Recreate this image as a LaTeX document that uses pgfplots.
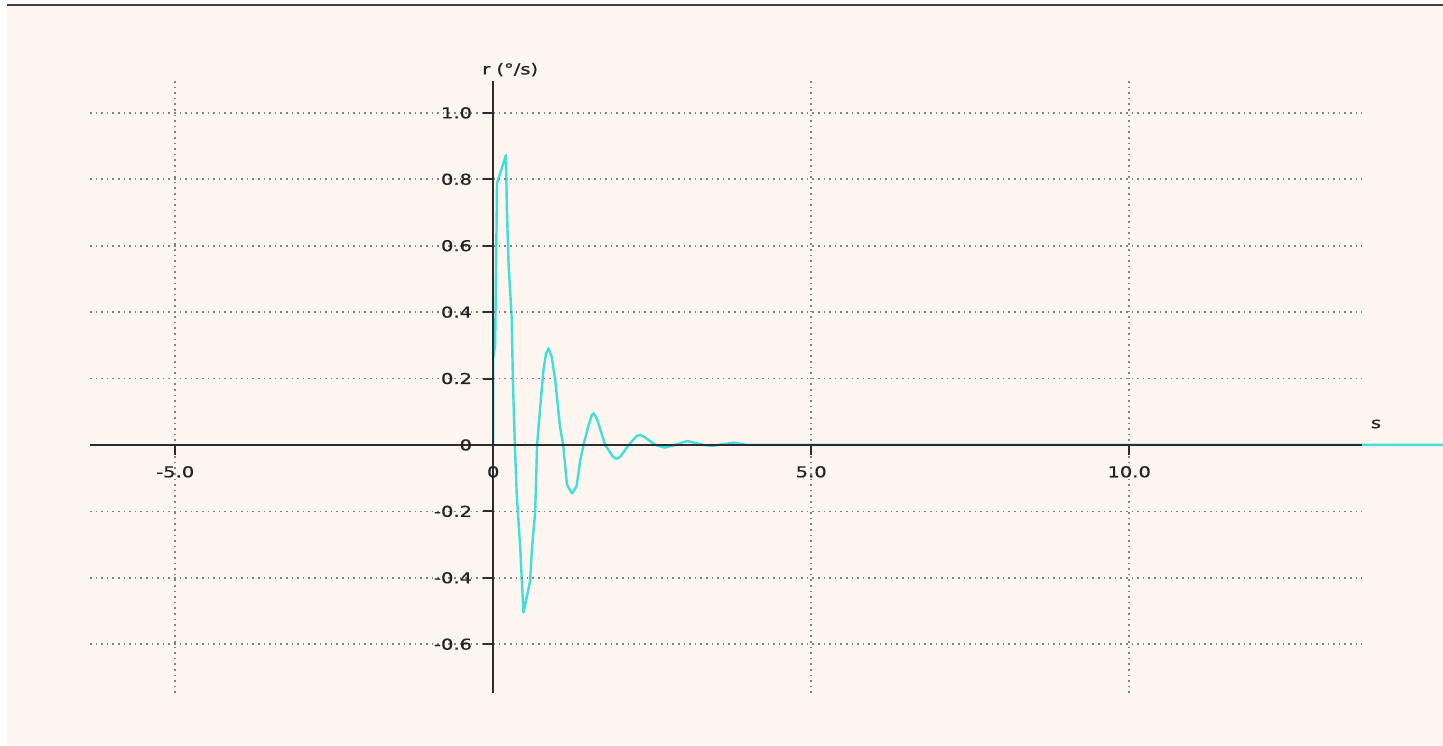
\documentclass[border=0pt]{standalone}
\usepackage{fontspec}
\setmainfont{DejaVu Sans}[FakeStretch=1.3, FakeBold=0.6]
\usepackage{pgfplots}
\pgfplotsset{compat=1.18}
\definecolor{bg}{RGB}{253,245,240}
\definecolor{curve}{RGB}{64,224,216}
\definecolor{axc}{RGB}{45,45,45}
\definecolor{gridc}{RGB}{130,130,130}
\definecolor{txt}{RGB}{35,35,35}
\begin{document}
\begin{tikzpicture}
\useasboundingbox (0pt,0pt) rectangle (1443pt,745pt);
\fill[white] (0pt,0pt) rectangle (1443pt,745pt);
\fill[bg] (7pt,0pt) rectangle (1443pt,739pt);
\draw[line width=1.8pt, color=black!75] (7pt,739.7pt) -- (1443pt,739.7pt);
\begin{axis}[
  at={(90pt,52pt)}, anchor=south west,
  scale only axis, width=1272pt, height=612pt,
  xmin=-6.34, xmax=13.66, ymin=-0.747, ymax=1.096,
  axis lines=middle,
  axis line style={-, line width=2pt, draw=axc},
  axis on top,
  clip=false,
  xtick={-5,0,5,10},
  xticklabels={-5.0,0,5.0,10.0},
  ytick={-0.6,-0.4,-0.2,0,0.2,0.4,0.6,0.8,1.0},
  yticklabels={-0.6,-0.4,-0.2,0,0.2,0.4,0.6,0.8,1.0},
  hide obscured x ticks=false, hide obscured y ticks=false,
  tick align=outside,
  major tick length=10pt,
  tick style={line width=2pt, draw=axc},
  every tick label/.append style={font=\fontsize{15}{17}\selectfont, text=txt},
  xticklabel style={anchor=north, inner sep=0pt, yshift=-11pt},
  yticklabel style={anchor=east, inner sep=0pt, xshift=-11pt},
  grid=major,
  major grid style={draw=gridc, line width=1.6pt, dash pattern=on 1.6pt off 4pt},
  xlabel={s}, ylabel={r (°/s)},
  every axis x label/.style={at={(axis cs:13.88,0.063)}, anchor=center, font=\fontsize{15}{17}\selectfont, text=txt},
  every axis y label/.style={at={(axis cs:0.267,1.13)}, anchor=center, font=\fontsize{15}{17}\selectfont, text=txt},
]
\addplot[color=curve, line width=2.4pt, line join=round] coordinates {
(0,0) (0,0.26) (0.03,0.30) (0.06,0.788) (0.2,0.873) (0.215,0.71) (0.24,0.55)
(0.29,0.385) (0.31,0.19) (0.34,0) (0.37,-0.15) (0.425,-0.31) (0.45,-0.41)
(0.476,-0.505) (0.58,-0.41) (0.61,-0.31) (0.66,-0.2) (0.69,0) (0.74,0.115)
(0.79,0.226) (0.83,0.275) (0.87,0.291) (0.92,0.265) (0.975,0.196) (1.05,0.055) (1.1,0)
(1.16,-0.12) (1.24,-0.146) (1.31,-0.125) (1.37,-0.045) (1.42,0) (1.5,0.06)
(1.55,0.09) (1.58,0.095) (1.63,0.08) (1.76,0)
(1.88,-0.035) (1.94,-0.042) (2.0,-0.035) (2.13,0) (2.25,0.026) (2.31,0.03) (2.37,0.025)
(2.55,0) (2.7,-0.008) (2.86,0)
(3.05,0.012) (3.3,0) (3.44,-0.003) (3.54,0) (3.78,0.007) (3.99,0) (14.94,0)
};
\end{axis}
\end{tikzpicture}
\end{document}
